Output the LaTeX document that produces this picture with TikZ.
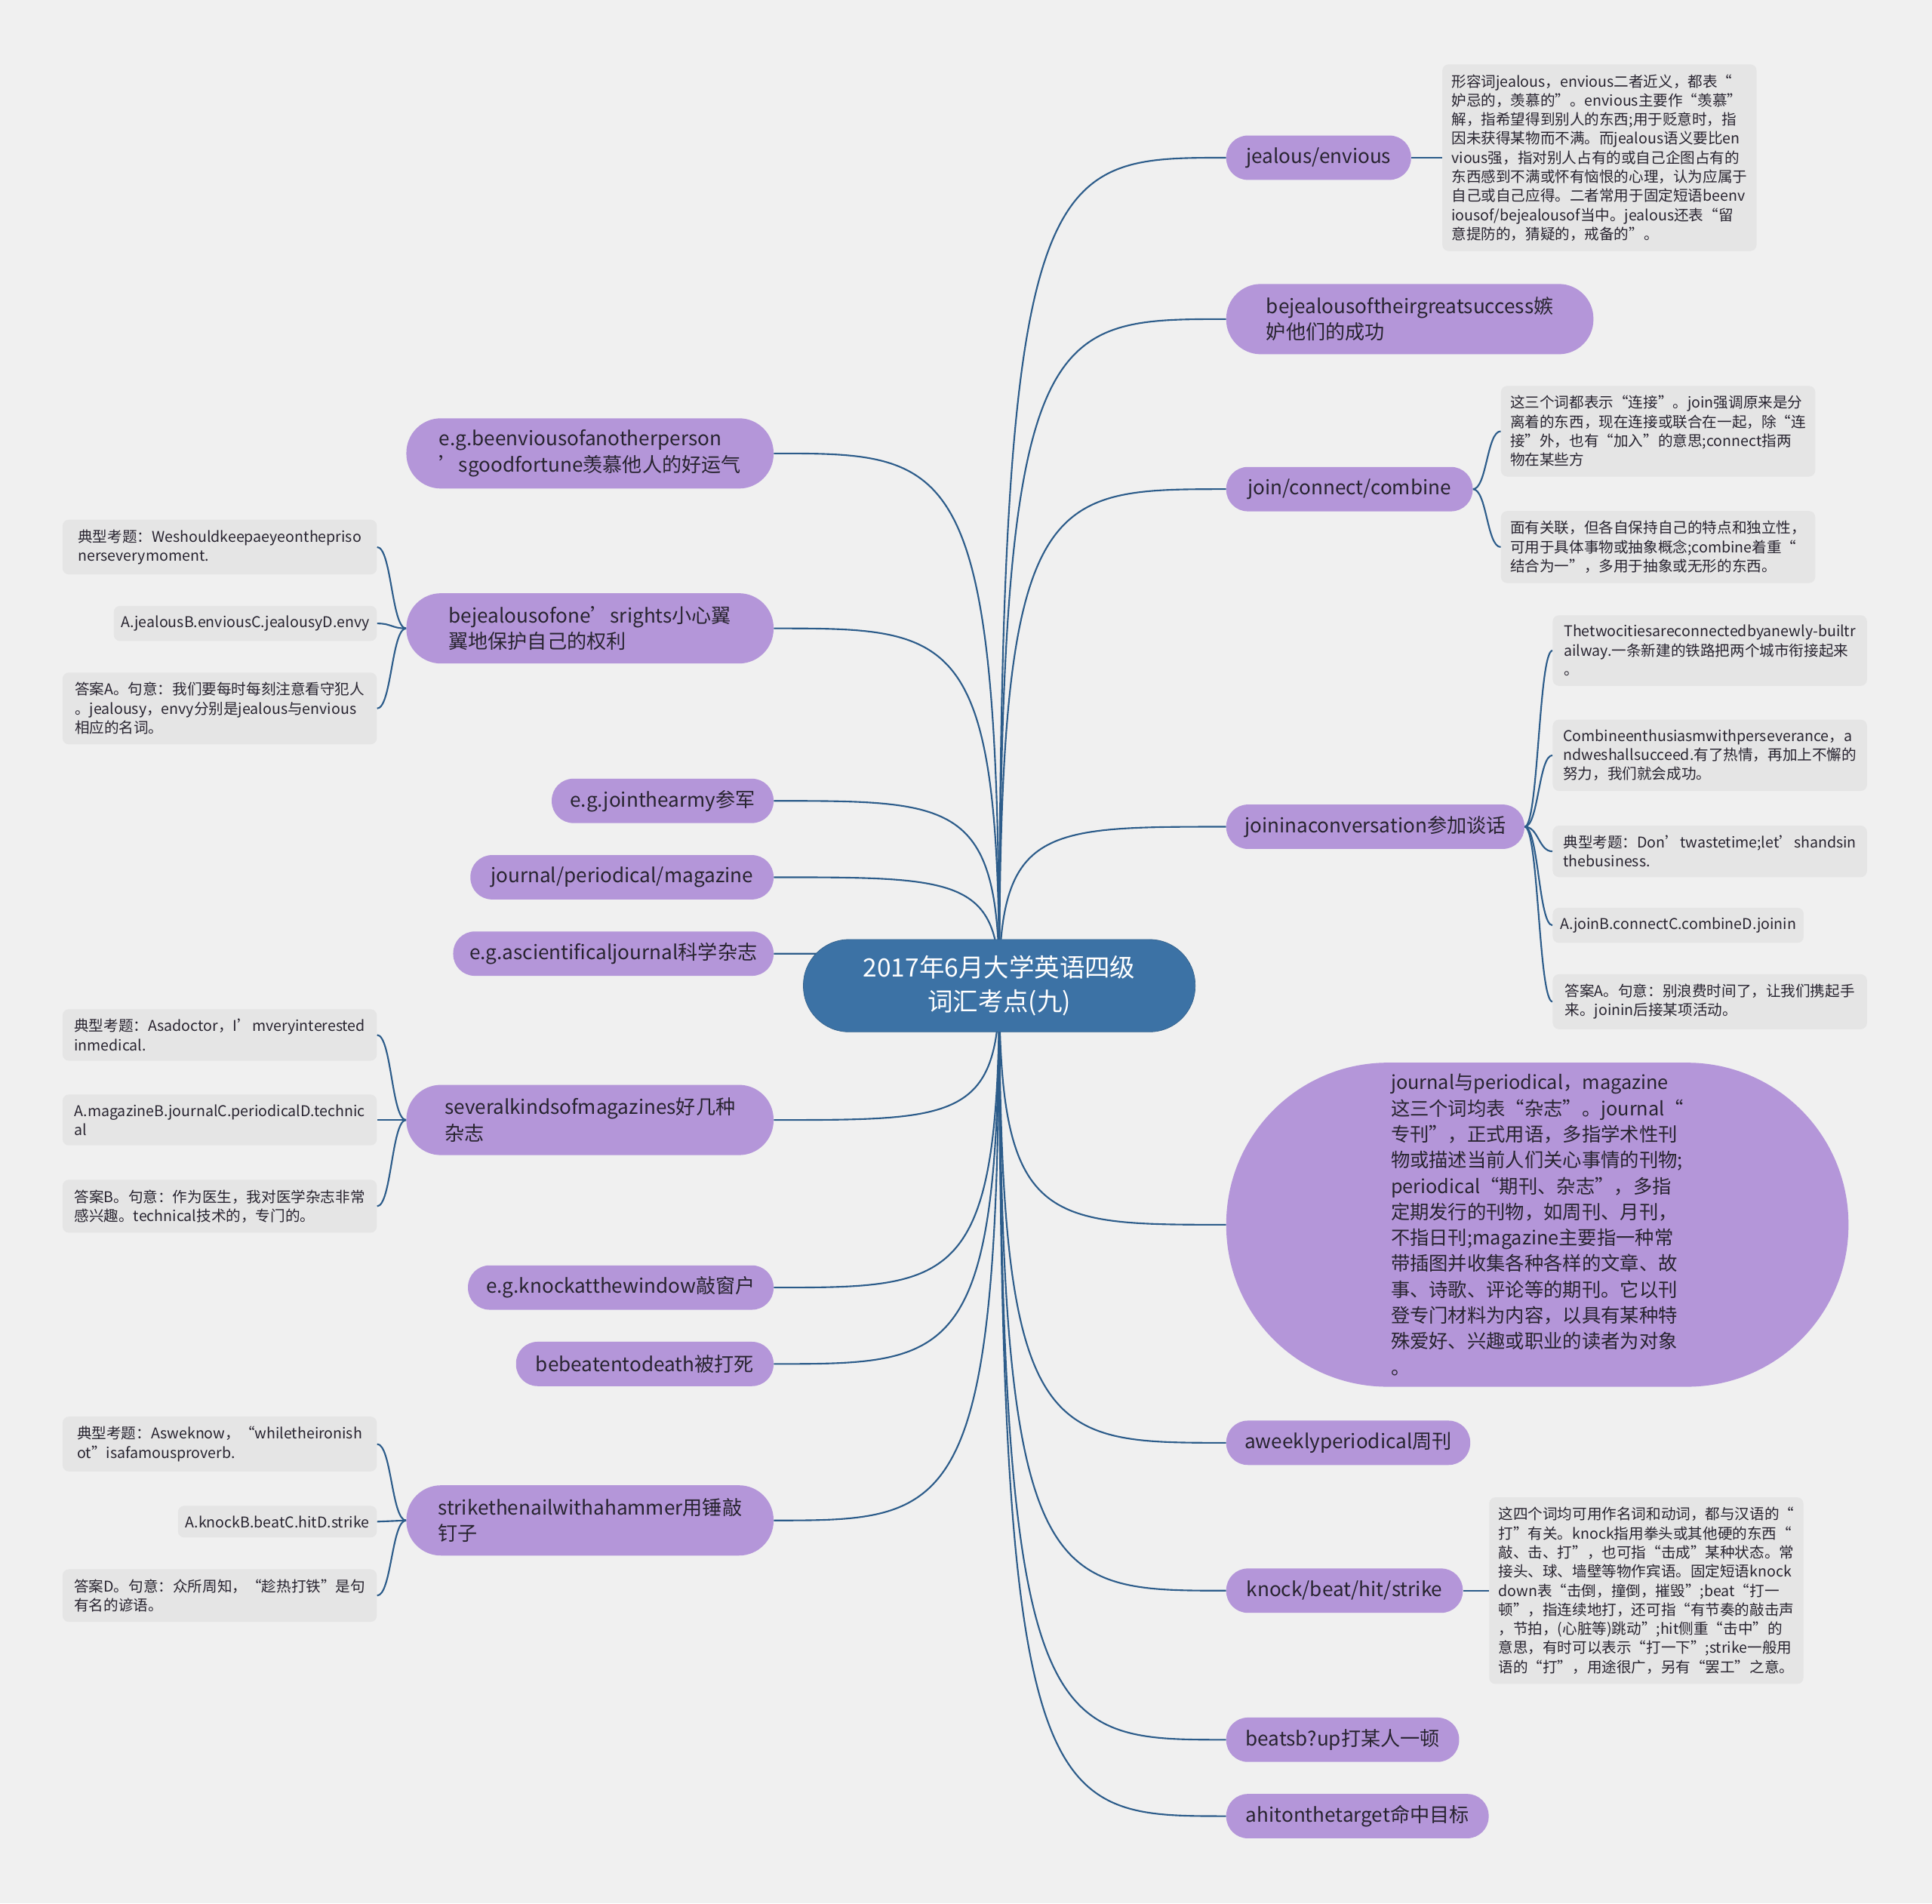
\documentclass[tikz,border=0pt]{standalone}
\usepackage{fontspec}
\setmainfont{Noto Sans CJK SC}
\usetikzlibrary{positioning, calc, backgrounds}
\definecolor{paper}{RGB}{240, 240, 240}
\definecolor{lavender}{RGB}{180, 150, 217}
\definecolor{steel}{RGB}{60, 114, 165}
\definecolor{memo}{RGB}{229, 229, 229}
\definecolor{wire}{RGB}{44, 92, 138}
\definecolor{ink}{RGB}{40, 36, 48}

\begin{document}
\begin{tikzpicture}[
    x=1pt, y=-1pt,
    root/.style={rectangle, fill=steel, draw=steel!85!black, text=white,
                 minimum width=318pt, minimum height=75pt, rounded corners=37pt,
                 align=center, font=\fontsize{20.5pt}{28pt}\selectfont},
    topic/.style={rectangle, fill=lavender, text=ink, minimum height=36pt,
                  rounded corners=17.5pt, align=center, inner xsep=10pt,
                  font=\fontsize{16pt}{21pt}\selectfont},
    topic2/.style={topic, minimum width=298pt, minimum height=57pt,
                   rounded corners=28pt, align=left},
    note/.style={rectangle, fill=memo, text=ink, rounded corners=5pt,
                 align=left, inner xsep=6pt, inner ysep=8pt,
                 font=\fontsize{12pt}{15.5pt}\selectfont},
    wide/.style={note, minimum width=255pt},
    branch/.style={draw=wire, line width=1.3pt,
                   to path={.. controls (\tikztostart |- \tikztotarget)
                     and ($(\tikztostart |- \tikztotarget)!0.2!(\tikztotarget)$)
                     .. (\tikztotarget)}},
    twig/.style={draw=wire, line width=1.3pt,
                 to path={.. controls ($(\tikztostart)!0.5!(\tikztostart -| \tikztotarget)$)
                   and ($(\tikztotarget)!0.5!(\tikztotarget -| \tikztostart)$)
                   .. (\tikztotarget)}},
  ]
    \useasboundingbox (0,0) rectangle (1568,1545);
    \begin{scope}[on background layer]
      \fill[paper] (0,0) rectangle (1568,1545);
    \end{scope}

    \node[root] (ROOT) at (811,800) {2017年6月大学英语四级\\词汇考点(九)};

    \node[topic, minimum width=150pt, anchor=west] (JEAL) at (995,128) {jealous/envious};
    \node[topic2, anchor=west] (SUCC) at (995,259)
      {bejealousoftheirgreatsuccess嫉\\妒他们的成功};
    \node[topic, minimum width=200pt, anchor=west] (JOIN) at (995,397) {join/connect/combine};
    \node[topic, minimum width=242pt, anchor=west] (CONV) at (995,671) {joininaconversation参加谈话};
    \node[topic, minimum width=505pt, minimum height=263pt, rounded corners=131pt,
          align=left, anchor=west, font=\fontsize{15.5pt}{21pt}\selectfont] (MAGS) at (995,994)
      {journal与periodical，magazine\\这三个词均表“杂志”。journal“\\专刊”，正式用语，多指学术性刊\\物或描述当前人们关心事情的刊物;\\periodical“期刊、杂志”，多指\\定期发行的刊物，如周刊、月刊，\\不指日刊;magazine主要指一种常\\带插图并收集各种各样的文章、故\\事、诗歌、评论等的期刊。它以刊\\登专门材料为内容，以具有某种特\\殊爱好、兴趣或职业的读者为对象\\。};
    \node[topic, minimum width=198pt, anchor=west] (WEEK) at (995,1171) {aweeklyperiodical周刊};
    \node[topic, minimum width=192pt, anchor=west] (KNOCK) at (995,1291) {knock/beat/hit/strike};
    \node[topic, minimum width=189pt, anchor=west] (BEATUP) at (995,1412) {beatsb?up打某人一顿};
    \node[topic, minimum width=213pt, anchor=west] (HIT) at (995,1474) {ahitonthetarget命中目标};

    \node[topic2, anchor=east] (ENVY) at (628,368)
      {e.g.beenviousofanotherperson\\’sgoodfortune羡慕他人的好运气};
    \node[topic2, anchor=east] (RIGHTS) at (628,510)
      {bejealousofone’srights小心翼\\翼地保护自己的权利};
    \node[topic, minimum width=180pt, anchor=east] (ARMY) at (628,650) {e.g.jointhearmy参军};
    \node[topic, minimum width=246pt, anchor=east] (JPM) at (628,712) {journal/periodical/magazine};
    \node[topic, minimum width=260pt, anchor=east] (SCI) at (628,774) {e.g.ascientificaljournal科学杂志};
    \node[topic2, anchor=east] (KINDS) at (628,909)
      {severalkindsofmagazines好几种\\杂志};
    \node[topic, minimum width=248pt, anchor=east] (WINDOW) at (628,1045) {e.g.knockatthewindow敲窗户};
    \node[topic, minimum width=209pt, anchor=east] (DEATH) at (628,1107) {bebeatentodeath被打死};
    \node[topic2, anchor=east] (NAIL) at (628,1234)
      {strikethenailwithahammer用锤敲\\钉子};

    \node[wide, right=25pt of JEAL] (JEALn)
      {形容词jealous，envious二者近义，都表“\\妒忌的，羡慕的”。envious主要作“羡慕”\\解，指希望得到别人的东西;用于贬意时，指\\因未获得某物而不满。而jealous语义要比en\\vious强，指对别人占有的或自己企图占有的\\东西感到不满或怀有恼恨的心理，认为应属于\\自己或自己应得。二者常用于固定短语beenv\\iousof/bejealousof当中。jealous还表“留\\意提防的，猜疑的，戒备的”。};
    \node[wide, anchor=west] (JOINa) at (1218,350)
      {这三个词都表示“连接”。join强调原来是分\\离着的东西，现在连接或联合在一起，除“连\\接”外，也有“加入”的意思;connect指两\\物在某些方};
    \node[wide, anchor=west] (JOINb) at (1218,444)
      {面有关联，但各自保持自己的特点和独立性，\\可用于具体事物或抽象概念;combine着重“\\结合为一”，多用于抽象或无形的东西。};
    \node[wide, anchor=west] (CONVa) at (1260,528)
      {Thetwocitiesareconnectedbyanewly-builtr\\ailway.一条新建的铁路把两个城市衔接起来\\。};
    \node[wide, anchor=west] (CONVb) at (1260,613)
      {Combineenthusiasmwithperseverance，a\\ndweshallsucceed.有了热情，再加上不懈的\\努力，我们就会成功。};
    \node[wide, anchor=west] (CONVc) at (1260,691)
      {典型考题：Don’twastetime;let’shandsin\\thebusiness.};
    \node[note, anchor=west] (CONVd) at (1260,751) {A.joinB.connectC.combineD.joinin};
    \node[wide, anchor=west] (CONVe) at (1260,813)
      {答案A。句意：别浪费时间了，让我们携起手\\来。joinin后接某项活动。};
    \node[wide, right=21pt of KNOCK] (KNOCKn)
      {这四个词均可用作名词和动词，都与汉语的“\\打”有关。knock指用拳头或其他硬的东西“\\敲、击、打”，也可指“击成”某种状态。常\\接头、球、墙壁等物作宾语。固定短语knock\\down表“击倒，撞倒，摧毁”;beat“打一\\顿”，指连续地打，还可指“有节奏的敲击声\\，节拍，(心脏等)跳动”;hit侧重“击中”的\\意思，有时可以表示“打一下”;strike一般用\\语的“打”，用途很广，另有“罢工”之意。};

    \node[wide, anchor=east] (RIGHTSa) at (306,444)
      {典型考题：Weshouldkeepaeyeonthepriso\\nerseverymoment.};
    \node[note, anchor=east] (RIGHTSb) at (306,506) {A.jealousB.enviousC.jealousyD.envy};
    \node[wide, anchor=east] (RIGHTSc) at (306,575)
      {答案A。句意：我们要每时每刻注意看守犯人\\。jealousy，envy分别是jealous与envious\\相应的名词。};
    \node[wide, anchor=east] (KINDSa) at (306,840)
      {典型考题：Asadoctor，I’mveryinterested\\inmedical.};
    \node[wide, anchor=east] (KINDSb) at (306,909)
      {A.magazineB.journalC.periodicalD.technic\\al};
    \node[wide, anchor=east] (KINDSc) at (306,979)
      {答案B。句意：作为医生，我对医学杂志非常\\感兴趣。technical技术的，专门的。};
    \node[wide, anchor=east] (NAILa) at (306,1172)
      {典型考题：Asweknow，“whiletheironish\\ot”isafamousproverb.};
    \node[note, anchor=east] (NAILb) at (306,1235) {A.knockB.beatC.hitD.strike};
    \node[wide, anchor=east] (NAILc) at (306,1295)
      {答案D。句意：众所周知，“趁热打铁”是句\\有名的谚语。};

    \begin{scope}[on background layer]
      \foreach \t in {JEAL, SUCC, JOIN, CONV, MAGS, WEEK, KNOCK, BEATUP, HIT}
        \draw[branch] (ROOT.center) to (\t.west);
      \foreach \t in {ENVY, RIGHTS, ARMY, JPM, SCI, KINDS, WINDOW, DEATH, NAIL}
        \draw[branch] (ROOT.center) to (\t.east);
      \draw[twig] (JEAL.east) to (JEALn.west);
      \foreach \n in {JOINa, JOINb}
        \draw[twig] (JOIN.east) to (\n.west);
      \foreach \n in {CONVa, CONVb, CONVc, CONVd, CONVe}
        \draw[twig] (CONV.east) to (\n.west);
      \draw[twig] (KNOCK.east) to (KNOCKn.west);
      \foreach \n in {RIGHTSa, RIGHTSb, RIGHTSc}
        \draw[twig] (RIGHTS.west) to (\n.east);
      \foreach \n in {KINDSa, KINDSb, KINDSc}
        \draw[twig] (KINDS.west) to (\n.east);
      \foreach \n in {NAILa, NAILb, NAILc}
        \draw[twig] (NAIL.west) to (\n.east);
    \end{scope}
\end{tikzpicture}
\end{document}
